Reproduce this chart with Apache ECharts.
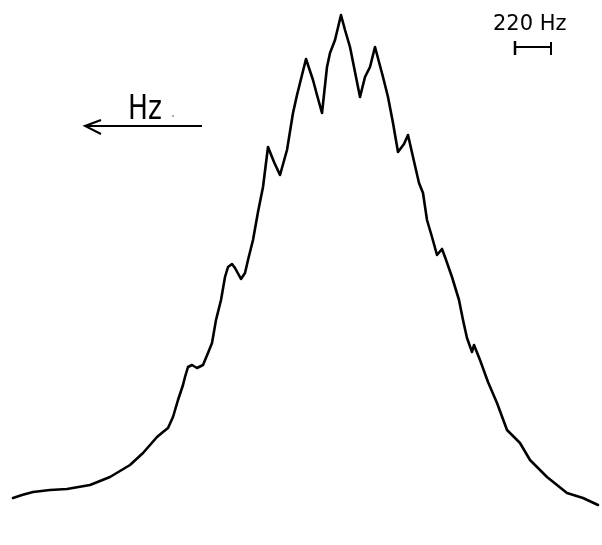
<!DOCTYPE html>
<html>
<head>
<meta charset="utf-8">
<script src="https://cdn.jsdelivr.net/npm/echarts@6/dist/echarts.min.js"></script>
<style>
html,body{margin:0;padding:0;background:#fff;}
#chart{width:602px;height:545px;}
</style>
</head>
<body>
<div id="chart"></div>
<script>
// Horizontal position along the (unlabelled) frequency axis, in plot units
var freqPos = [13,22,33,50,67,90,110,130,143,157,163,168,173,178,183,185,188,192,197,203,208,212,216,221,225,228,232,235,241,245,248,253,258,263,268,274,280,287,293,297,300,306,313,317,322,327,330,335,341,345,350,355,360,365,370,375,383,388,393,398,400,404,408,413,419,423,427,432,437,442,445,452,459,463,467,472,474,480,488,497,507,520,530,547,567,583,598];
// Signal intensity (arbitrary units, 0 = bottom of figure)
var intensity = [47,50,53,55,56,60,68,80,92,108,113,117,128,145,160,168,178,180,177,180,192,202,225,245,268,278,281,277,266,272,285,305,333,358,398,383,370,395,432,450,462,486,465,450,432,478,492,505,530,515,498,473,448,468,478,498,468,448,422,393,393,401,410,388,362,352,325,308,290,296,288,268,245,225,207,193,200,185,163,142,115,102,85,68,52,47,40];

var chart = echarts.init(document.getElementById('chart'), null, {renderer:'canvas'});
var data = freqPos.map(function(x,i){return [x, intensity[i]];});
chart.setOption({
  animation:false,
  backgroundColor:'#ffffff',
  grid:{left:0,right:0,top:0,bottom:0},
  xAxis:{type:'value',min:0,max:602,show:false},
  yAxis:{type:'value',min:0,max:545,show:false},
  series:[{
    type:'line',
    data:data,
    showSymbol:false,
    smooth:false,
    lineStyle:{color:'#000',width:2.6,join:'round',cap:'round'}
  }],
  graphic:[
    {type:'text',left:128,top:93,style:{text:'Hz',font:'normal 34px "DejaVu Sans"',fill:'#000'},scaleX:0.78,scaleY:1},
    {type:'line',shape:{x1:85,y1:126,x2:202,y2:126},style:{stroke:'#000',lineWidth:2}},
    {type:'polyline',shape:{points:[[101,120],[85,126],[101,134]]},style:{stroke:'#000',lineWidth:2,fill:null}},
    {type:'circle',shape:{cx:173,cy:116,r:0.8},style:{fill:'#444'}},
    {type:'text',left:493,top:14,style:{text:'220 Hz',font:'normal 21px "DejaVu Sans"',fill:'#000'}},
    {type:'line',shape:{x1:514,y1:47,x2:552,y2:47},style:{stroke:'#000',lineWidth:2}},
    {type:'line',shape:{x1:515,y1:41,x2:515,y2:55},style:{stroke:'#000',lineWidth:2.5}},
    {type:'line',shape:{x1:551,y1:42,x2:551,y2:55},style:{stroke:'#000',lineWidth:2}}
  ]
});
</script>
</body>
</html>
